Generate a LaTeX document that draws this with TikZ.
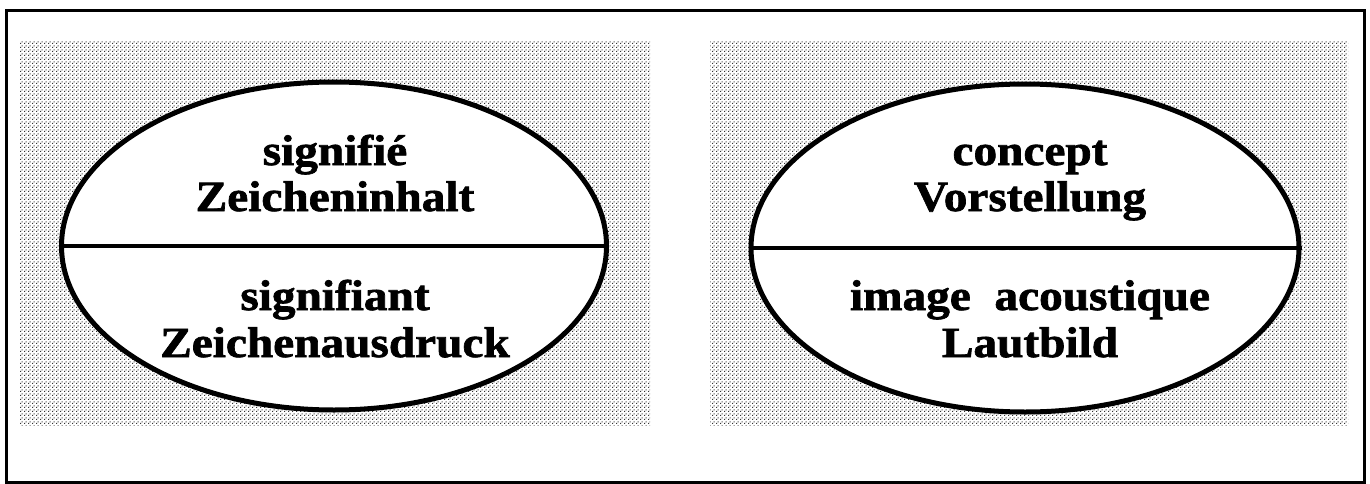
\documentclass[tikz,border=0pt]{standalone}
\usepackage{fontspec}
\setmainfont{Liberation Serif}
\newfontfamily\lblfont[FakeStretch=1.1,FakeBold=1.6]{Liberation Serif}
\usetikzlibrary{shapes.geometric,patterns}
\pgfdeclarepatternformonly{scandots}{\pgfqpoint{0pt}{0pt}}{\pgfqpoint{4pt}{4pt}}{\pgfqpoint{4pt}{4pt}}{%
  \pgfpathrectangle{\pgfqpoint{0pt}{0pt}}{\pgfqpoint{1.3pt}{1.3pt}}%
  \pgfpathrectangle{\pgfqpoint{2pt}{2pt}}{\pgfqpoint{1.3pt}{1.3pt}}%
  \pgfusepath{fill}}
\begin{document}
\begin{tikzpicture}[x=1pt,y=-1pt,
  panel/.style={pattern=scandots, pattern color=black!80, draw=none},
  oval/.style={ellipse, draw, line width=5pt, fill=white, inner sep=0pt},
  divider/.style={line width=3.8pt},
  lbl/.style={font=\lblfont\bfseries\fontsize{43}{46}\selectfont, inner sep=0pt, anchor=base}]
\useasboundingbox (0,0) rectangle (1370,484);
\draw[line width=3pt] (6,11) rectangle (1364,482);
\fill[panel] (20,42) rectangle (650,425);
\fill[panel] (710,42) rectangle (1348,425);
\node[oval, minimum width=545, minimum height=328] (eL) at (334,246) {};
\node[oval, minimum width=548, minimum height=328] (eR) at (1025,248) {};
\draw[divider] (eL.west) -- (eL.east);
\draw[divider] (eR.west) -- (eR.east);
\node[lbl] (t1) at (335,165) {signifié};
\node[lbl] (t2) at (335,211) {Zeicheninhalt};
\node[lbl] (t3) at (335,310) {signifiant};
\node[lbl] (t4) at (335,357) {Zeichenausdruck};
\node[lbl] (t5) at (1030,165) {concept};
\node[lbl] (t6) at (1030,211) {Vorstellung};
\node[lbl] (t7) at (1030,310) {image\ \ acoustique};
\node[lbl] (t8) at (1030,357) {Lautbild};
\end{tikzpicture}
\end{document}
